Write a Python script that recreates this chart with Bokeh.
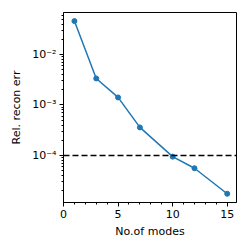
from bokeh.plotting import figure
from bokeh.models import Range1d, FixedTicker, Span
from bokeh.embed import file_html
from bokeh.resources import INLINE

modes = [1, 3, 5, 7, 10, 12, 15]
rel_err = [0.0457, 0.00335, 0.00141, 0.00036, 0.000095, 0.000056, 0.0000175]
threshold = 1e-4
x_ticks = [0, 5, 10, 15]
y_ticks = [1e-4, 1e-3, 1e-2]
y_tick_labels = ["10⁻⁴", "10⁻³", "10⁻²"]

p = figure(width=241, height=241, output_backend="svg", toolbar_location=None,
           y_axis_type="log",
           x_range=Range1d(0, 15.85), y_range=Range1d(10**-4.93, 10**-1.17),
           min_border_left=63, min_border_right=5, min_border_top=12, min_border_bottom=39)

p.xgrid.visible = False
p.ygrid.visible = False
p.outline_line_color = "black"
p.outline_line_width = 1
p.background_fill_color = "white"
p.border_fill_color = "white"

minor_x = [i for i in range(0, 16)]
p.xaxis.ticker = FixedTicker(ticks=x_ticks, minor_ticks=minor_x)
minor_y = [m * 10.0**e for e in range(-6, 0) for m in range(1, 10)]
p.yaxis.ticker = FixedTicker(ticks=y_ticks, minor_ticks=minor_y)
p.yaxis.major_label_overrides = {t: l for t, l in zip(y_ticks, y_tick_labels)}

for ax in (p.xaxis, p.yaxis):
    ax.axis_line_color = "black"
    ax.major_tick_line_color = "black"
    ax.minor_tick_line_color = "black"
    ax.major_tick_out = 4
    ax.major_tick_in = 0
    ax.minor_tick_out = 2
    ax.minor_tick_in = 0
    ax.major_label_text_font = "DejaVu Sans"
    ax.major_label_text_font_size = "11px"
    ax.major_label_text_color = "black"
    ax.axis_label_text_font = "DejaVu Sans"
    ax.axis_label_text_font_size = "11px"
    ax.axis_label_text_font_style = "normal"
    ax.axis_label_text_color = "black"

p.xaxis.axis_label = "No.of modes"
p.yaxis.axis_label = "Rel. recon err"
p.xaxis.axis_label_standoff = 4
p.yaxis.axis_label_standoff = 6
p.xaxis.major_label_standoff = 3
p.yaxis.major_label_standoff = 3

p.add_layout(Span(location=threshold, dimension="width", line_color="black",
                  line_width=1.5, line_dash="6 3"))

p.line(modes, rel_err, line_color="#1f77b4", line_width=1.5)
p.scatter(modes, rel_err, size=5, fill_color="#1f77b4", line_color="#1f77b4")

open("out.html", "w").write(file_html(p, INLINE))
